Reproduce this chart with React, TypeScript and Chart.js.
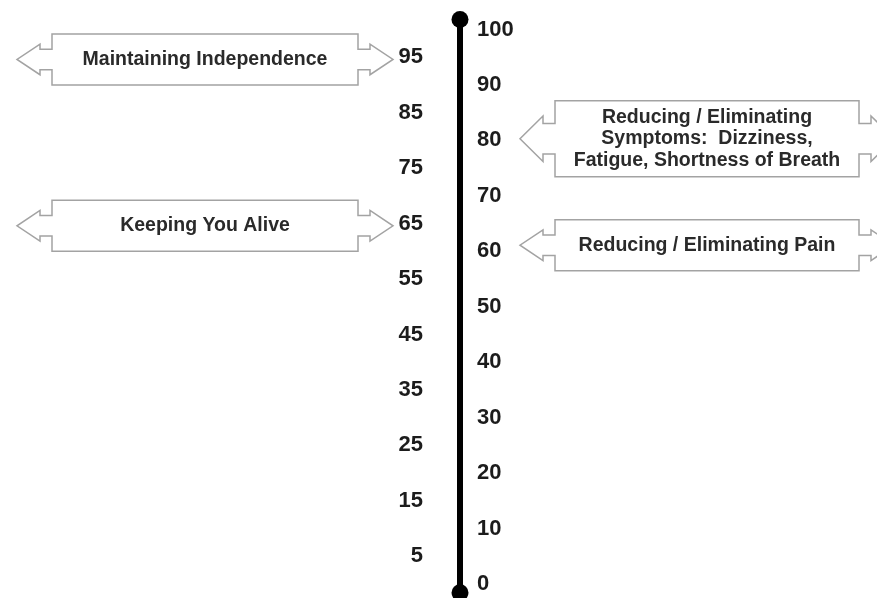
import React, { useEffect, useRef } from "react";
import { Chart, registerables } from "chart.js";

Chart.register(...registerables);

// ---- data ----
const rightTicks = [0, 10, 20, 30, 40, 50, 60, 70, 80, 90, 100];
const leftTicks = [5, 15, 25, 35, 45, 55, 65, 75, 85, 95];
const axisEnds = [-1.6, 101.8];
const calloutLabels = [
  ["Maintaining Independence"],
  ["Keeping You Alive"],
  ["Reducing / Eliminating", "Symptoms:  Dizziness,", "Fatigue, Shortness of Breath"],
  ["Reducing / Eliminating Pain"],
];
const calloutValues = [94.6, 64.6, 80.3, 61.1];
const calloutSides = ["left", "left", "right", "right"];

// ---- layout / style ----
const W = 877;
const H = 598;
const AXIS_PX = 460;
const FONT = '"Liberation Sans", Arial, sans-serif';
const geom = {
  left: { x0: -408, x1: -102 },
  right: { x0: 95, x1: 399 },
  shaft: 12,
  head: 23,
  oneLineH: 51,
  multiLineH: 76,
  lineGap: 21.5,
};

const numberLinePlugin = {
  id: "numberLine",
  afterDatasetsDraw(chart: any) {
    const ctx = chart.ctx;
    const xs = chart.scales.x;
    const ys = chart.scales.y;
    const ax = xs.getPixelForValue(0);
    ctx.save();
    // tick labels
    ctx.font = `bold 22px ${FONT}`;
    ctx.fillStyle = "#1c1c1c";
    ctx.textBaseline = "middle";
    ctx.textAlign = "left";
    rightTicks.forEach((v) => ctx.fillText(String(v), ax + 17, ys.getPixelForValue(v)));
    ctx.textAlign = "right";
    leftTicks.forEach((v) => ctx.fillText(String(v), ax - 37, ys.getPixelForValue(v)));

    // callouts
    calloutLabels.forEach((lines, i) => {
      const side = calloutSides[i] === "left" ? geom.left : geom.right;
      const x0 = xs.getPixelForValue(side.x0);
      const x1 = xs.getPixelForValue(side.x1);
      const cy = ys.getPixelForValue(calloutValues[i]);
      const h = lines.length > 1 ? geom.multiLineH : geom.oneLineH;
      const top = cy - h / 2;
      const bot = cy + h / 2;
      const s = 0.2 * h;
      const a = 0.3 * h;
      const sh = geom.shaft;
      const hd = geom.head;
      ctx.beginPath();
      ctx.moveTo(x0, top);
      ctx.lineTo(x1, top);
      ctx.lineTo(x1, cy - s);
      ctx.lineTo(x1 + sh, cy - s);
      ctx.lineTo(x1 + sh, cy - a);
      ctx.lineTo(x1 + sh + hd, cy);
      ctx.lineTo(x1 + sh, cy + a);
      ctx.lineTo(x1 + sh, cy + s);
      ctx.lineTo(x1, cy + s);
      ctx.lineTo(x1, bot);
      ctx.lineTo(x0, bot);
      ctx.lineTo(x0, cy + s);
      ctx.lineTo(x0 - sh, cy + s);
      ctx.lineTo(x0 - sh, cy + a);
      ctx.lineTo(x0 - sh - hd, cy);
      ctx.lineTo(x0 - sh, cy - a);
      ctx.lineTo(x0 - sh, cy - s);
      ctx.lineTo(x0, cy - s);
      ctx.closePath();
      ctx.fillStyle = "#ffffff";
      ctx.fill();
      ctx.strokeStyle = "#a3a3a3";
      ctx.lineWidth = 1.5;
      ctx.stroke();

      ctx.font = `bold 19.5px ${FONT}`;
      ctx.fillStyle = "#2a2a2a";
      ctx.textAlign = "center";
      ctx.textBaseline = "middle";
      const cx = (x0 + x1) / 2;
      const startY = cy - ((lines.length - 1) * geom.lineGap) / 2;
      lines.forEach((t, j) => ctx.fillText(t, cx, startY + j * geom.lineGap));
    });
    ctx.restore();
  },
};

export default function App() {
  const ref = useRef<HTMLCanvasElement | null>(null);
  useEffect(() => {
    document.body.style.margin = "0";
    const canvas = ref.current;
    if (!canvas) return;
    const chart = new Chart(canvas, {
      type: "scatter",
      data: {
        datasets: [
          {
            data: axisEnds.map((v) => ({ x: 0, y: v })),
            showLine: true,
            borderColor: "#000000",
            backgroundColor: "#000000",
            borderWidth: 6,
            pointRadius: 8.5,
            pointHoverRadius: 8.5,
            pointBorderWidth: 0,
          },
        ],
      },
      options: {
        responsive: false,
        animation: false,
        events: [],
        layout: { padding: 0, autoPadding: false },
        plugins: { legend: { display: false }, tooltip: { enabled: false } },
        scales: {
          x: { type: "linear", display: false, min: -AXIS_PX, max: W - AXIS_PX },
          y: { type: "linear", display: false, min: -2.525, max: 105.32 },
        },
      },
      plugins: [numberLinePlugin],
    });
    return () => chart.destroy();
  }, []);
  return (
    <div style={{ width: W, height: H, background: "#fff" }}>
      <canvas ref={ref} width={W} height={H} style={{ display: "block", width: W, height: H }} />
    </div>
  );
}
